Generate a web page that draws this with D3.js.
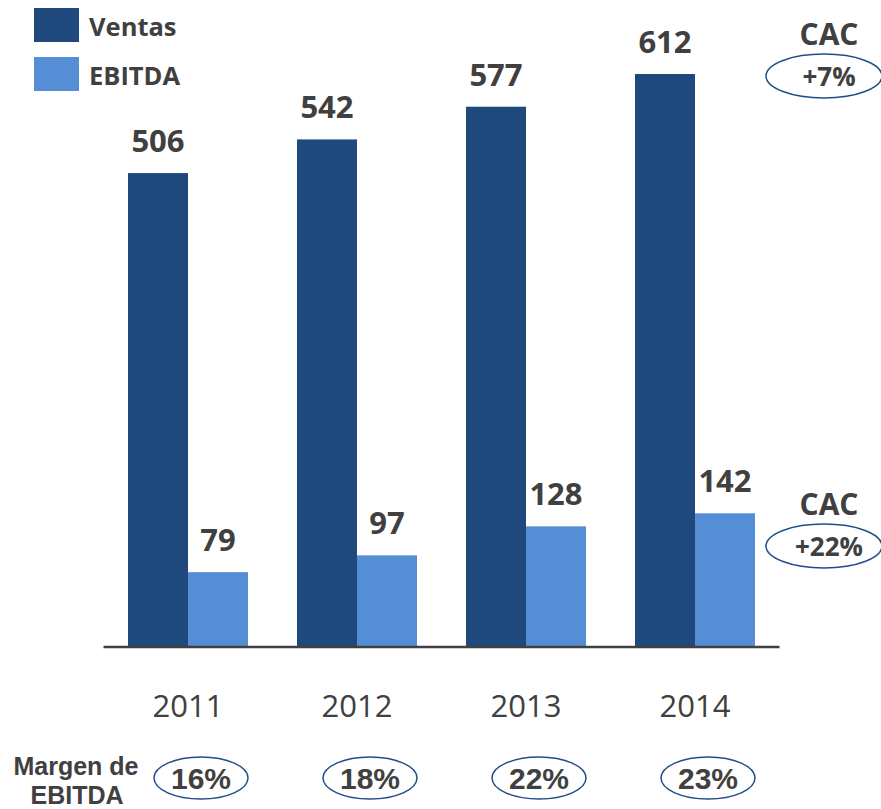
<!DOCTYPE html>
<html>
<head>
<meta charset="utf-8">
<script src="https://cdn.jsdelivr.net/npm/d3@7"></script>
<style>
  body { margin: 0; background: #fff; }
  text { font-family: "Open Sans", "DejaVu Sans", sans-serif; fill: #404040; }
  .narrow { font-family: "Liberation Sans Narrow", "Liberation Sans", sans-serif; font-weight: bold; }
</style>
</head>
<body>
<script>
(function() {

    const width = 881;
    const height = 809;

    // data
    const years = ["2011", "2012", "2013", "2014"];
    const series = ["Ventas", "EBITDA"];
    const ventas = [506, 542, 577, 612];
    const ebitda = [79, 97, 128, 142];
    const margen = ["16%", "18%", "22%", "23%"];
    const cacLabels = ["+7%", "+22%"];

    const colors = { Ventas: "#1f497d", EBITDA: "#558ed5" };
    const ink = "#404040";
    const ringColor = "#1f4e89";

    let svg = d3.select("body").append("svg")
        .attr("width", width)
        .attr("height", height);

    // scales
    let x = d3.scaleBand()
        .domain(years)
        .range([103.5, 779.5])
        .paddingInner(0.29)
        .paddingOuter(0.145);

    let xSub = d3.scaleBand()
        .domain(series)
        .range([0, x.bandwidth()]);

    let y = d3.scaleLinear()
        .domain([0, 612])
        .range([646, 74]);

    let rows = years.map((yr, i) => ({ year: yr, Ventas: ventas[i], EBITDA: ebitda[i] }));

    // bars
    let groups = svg.selectAll("g.year")
        .data(rows)
        .enter()
        .append("g")
        .attr("class", "year")
        .attr("transform", d => "translate(" + x(d.year) + ",0)");

    let cells = groups.selectAll("g.cell")
        .data(d => series.map(k => ({ key: k, value: d[k] })))
        .enter()
        .append("g");

    cells.append("rect")
        .attr("x", d => xSub(d.key))
        .attr("y", d => y(d.value))
        .attr("width", xSub.bandwidth())
        .attr("height", d => y(0) - y(d.value))
        .style("fill", d => colors[d.key]);

    cells.append("text")
        .attr("x", d => xSub(d.key) + xSub.bandwidth() / 2)
        .attr("y", d => y(d.value) - 21)
        .attr("text-anchor", "middle")
        .style("font-size", "31px")
        .style("font-weight", "bold")
        .text(d => d.value);

    // baseline axis
    svg.append("line")
        .attr("x1", x.range()[0])
        .attr("x2", x.range()[1])
        .attr("y1", y(0) + 1)
        .attr("y2", y(0) + 1)
        .style("stroke", ink)
        .style("stroke-width", 2.5);

    // year labels
    svg.selectAll("text.yearLabel")
        .data(years)
        .enter()
        .append("text")
        .attr("class", "yearLabel")
        .attr("x", d => x(d) + x.bandwidth() / 2)
        .attr("y", 717)
        .attr("text-anchor", "middle")
        .style("font-size", "31px")
        .text(d => d);

    // legend
    let legend = svg.selectAll("g.legend")
        .data(series)
        .enter()
        .append("g")
        .attr("class", "legend")
        .attr("transform", (d, i) => "translate(34," + (8 + i * 49) + ")");

    legend.append("rect")
        .attr("width", 45)
        .attr("height", 34)
        .style("fill", d => colors[d]);

    legend.append("text")
        .attr("x", 55)
        .attr("y", 28)
        .style("font-size", "25.5px")
        .style("font-weight", "bold")
        .text(d => d);

    // CAC callouts on the right
    let cac = svg.selectAll("g.cac")
        .data(cacLabels)
        .enter()
        .append("g")
        .attr("class", "cac")
        .attr("transform", (d, i) => "translate(824," + (i === 0 ? 0 : 470) + ")");

    cac.append("text")
        .attr("x", 5)
        .attr("y", 45)
        .attr("text-anchor", "middle")
        .style("font-size", "30px")
        .style("font-weight", "bold")
        .text("CAC");

    cac.append("ellipse")
        .attr("cx", 0)
        .attr("cy", 76)
        .attr("rx", 58)
        .attr("ry", 22)
        .style("fill", "none")
        .style("stroke", ringColor)
        .style("stroke-width", 1.5);

    cac.append("text")
        .attr("x", 5)
        .attr("y", 86)
        .attr("text-anchor", "middle")
        .style("font-size", "26px")
        .style("font-weight", "bold")
        .text(d => d);

    // margen de EBITDA row
    svg.append("text")
        .attr("class", "narrow")
        .attr("x", 76)
        .attr("y", 775)
        .attr("text-anchor", "middle")
        .style("font-size", "25px")
        .text("Margen de");

    svg.append("text")
        .attr("class", "narrow")
        .attr("x", 77)
        .attr("y", 804)
        .attr("text-anchor", "middle")
        .style("font-size", "25px")
        .text("EBITDA");

    let marg = svg.selectAll("g.marg")
        .data(margen)
        .enter()
        .append("g")
        .attr("class", "marg")
        .attr("transform", (d, i) => "translate(" + (x(years[i]) + x.bandwidth() / 2 + 13) + ",778)");

    marg.append("ellipse")
        .attr("rx", 47)
        .attr("ry", 21)
        .style("fill", "none")
        .style("stroke", ringColor)
        .style("stroke-width", 1.5);

    marg.append("text")
        .attr("class", "narrow")
        .attr("y", 11)
        .attr("text-anchor", "middle")
        .style("font-size", "30px")
        .text(d => d);

})();
</script>
</body>
</html>
